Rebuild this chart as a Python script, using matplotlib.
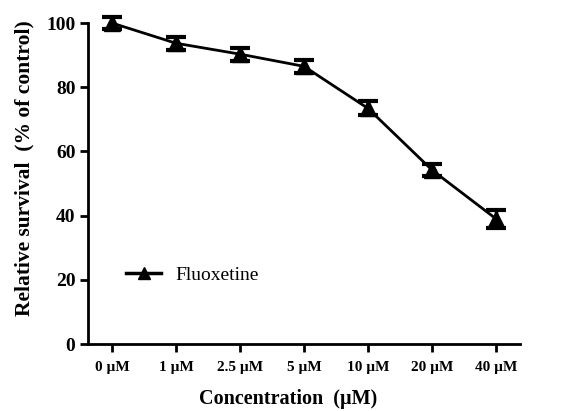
import matplotlib
matplotlib.use('Agg')
import matplotlib.pyplot as plt
from matplotlib.lines import Line2D
import numpy as np

concentrations = ['0 µM', '1 µM', '2.5 µM', '5 µM', '10 µM', '20 µM', '40 µM']
survival = [100, 93.7, 90.3, 86.5, 73.4, 54.2, 39.0]
errors = [2.0, 2.0, 2.0, 2.0, 2.2, 1.8, 2.8]

plt.rcParams['font.family'] = ['Liberation Serif', 'DejaVu Serif']

fig = plt.figure(figsize=(5.64, 4.11), dpi=100)
ax = fig.add_axes([0.156, 0.163, 0.766, 0.781])

x = np.arange(len(concentrations))
ax.errorbar(x, survival, yerr=errors, color='black', linewidth=2, marker='^',
            markersize=11, capsize=7, capthick=3, elinewidth=2.5,
            clip_on=False, zorder=3)

ax.set_xlim(-0.375, 6.375)
ax.set_ylim(0, 100)
ax.set_xticks(x)
ax.set_xticklabels(concentrations, fontsize=11, fontweight='bold')
ax.set_yticks([0, 20, 40, 60, 80, 100])
ax.tick_params(axis='y', labelsize=14, width=2, length=6, direction='out', pad=3)
ax.tick_params(axis='x', width=2, length=6, direction='out', pad=6)
for lab in ax.get_yticklabels():
    lab.set_fontweight('bold')

for s in ['top', 'right']:
    ax.spines[s].set_visible(False)
for s in ['left', 'bottom']:
    ax.spines[s].set_linewidth(2)

ax.set_xlabel('Concentration  (µM)', fontsize=14.5, fontweight='bold', va='center')
ax.xaxis.set_label_coords(0.463, -0.171)
ax.set_ylabel('Relative survival  (% of control)', fontsize=15.5, fontweight='bold', va='center')
ax.yaxis.set_label_coords(-0.146, 0.548)

# legend shows only line + triangle, no error bar
handle = Line2D([], [], color='black', linewidth=2.5, marker='^', markersize=9)
ax.legend([handle], ['Fluoxetine'], loc='center left', bbox_to_anchor=(0.048, 0.215),
          frameon=False, fontsize=14, handlelength=1.8, handletextpad=0.75)

fig.savefig('out.png', dpi=100)
